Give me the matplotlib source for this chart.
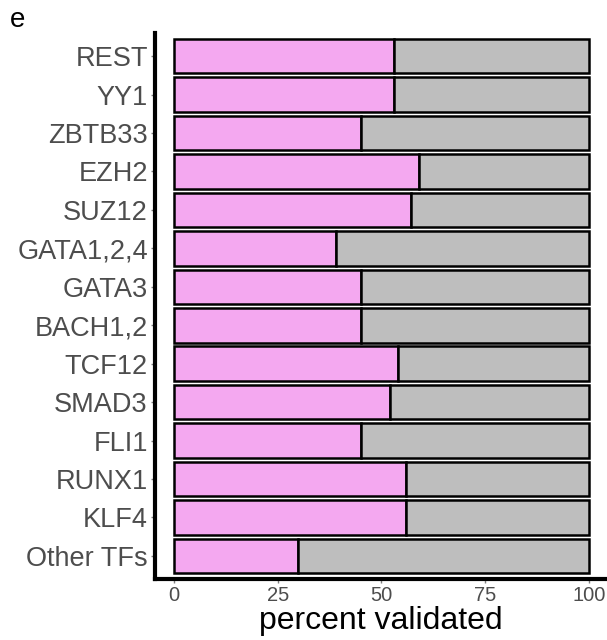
import matplotlib.pyplot as plt

# transcription factors, top to bottom
tfs = ["REST", "YY1", "ZBTB33", "EZH2", "SUZ12", "GATA1,2,4", "GATA3",
       "BACH1,2", "TCF12", "SMAD3", "FLI1", "RUNX1", "KLF4", "Other TFs"]
validated = [53, 53, 45, 59, 57, 39, 45, 45, 54, 52, 45, 56, 56, 30]
not_validated = [100 - v for v in validated]
x_ticks = [0, 25, 50, 75, 100]

plt.rcParams['font.family'] = ['Liberation Sans', 'DejaVu Sans']

fig = plt.figure(figsize=(6.07, 6.4), dpi=100)
ax = fig.add_axes([0.255, 0.0953, 0.745, 0.853])

ypos = list(range(len(tfs)))[::-1]
ax.barh(ypos, validated, height=0.9, color="#F4A8F0", edgecolor="black",
        linewidth=1.8, zorder=2)
ax.barh(ypos, not_validated, left=validated, height=0.9, color="#BEBEBE",
        edgecolor="black", linewidth=1.8, zorder=2)

ax.set_xlim(-4.58, 104.3)
ax.set_ylim(-0.6, len(tfs) - 0.4)
ax.set_yticks(ypos)
ax.set_yticklabels(tfs, fontsize=19.5, color="#4D4D4D")
ax.set_xticks(x_ticks)
ax.set_xticklabels([str(t) for t in x_ticks], fontsize=14.5, color="#4D4D4D")
ax.tick_params(axis="both", length=3, width=1, color="#7F7F7F", pad=2)

for s in ["top", "right"]:
    ax.spines[s].set_visible(False)
for s in ["left", "bottom"]:
    ax.spines[s].set_linewidth(3)
    ax.spines[s].set_color("black")

ax.set_xlabel("percent validated", fontsize=23, color="black", labelpad=1)
fig.text(0.016, 0.958, "e", fontsize=20, color="black")

fig.savefig("out.png", dpi=100)
